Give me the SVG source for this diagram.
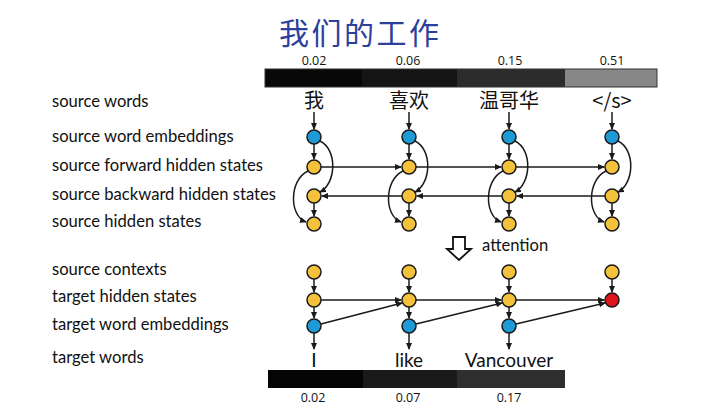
<svg xmlns="http://www.w3.org/2000/svg" width="720" height="405" viewBox="0 0 720 405">
<defs>
<marker id="ah" markerWidth="7" markerHeight="6" refX="6" refY="3" orient="auto" markerUnits="userSpaceOnUse">
<path d="M0,0 L7,3 L0,6 Z" fill="#1a1a1a"/>
</marker>
<style>
.lbl{font-family:Lato,"Open Sans","Liberation Sans",sans-serif;font-size:16.6px;fill:#111}
.num{font-family:"Open Sans","Liberation Sans",sans-serif;font-size:12.5px;fill:#111;text-anchor:middle}
.sw{font-family:"Noto Sans CJK SC","Liberation Sans",sans-serif;font-size:20px;fill:#111;text-anchor:middle}
.tw{font-family:Lato,"Open Sans","Liberation Sans",sans-serif;font-size:19px;fill:#111;text-anchor:middle}
.y{fill:#f3c13a;stroke:#1a1a1a;stroke-width:1.5}
.b{fill:#1e9ad6;stroke:#1a1a1a;stroke-width:1.5}
.r{fill:#e0141c;stroke:#1a1a1a;stroke-width:1.5}
.c line,.c path{stroke:#1a1a1a;stroke-width:1.5;fill:none;marker-end:url(#ah)}
</style>
</defs>
<rect width="720" height="405" fill="#fff"/>
<text x="279" y="44" font-family="'Noto Sans CJK SC',sans-serif" font-size="30" fill="#2b3f9c" textLength="160">我们的工作</text>
<g id="topbar">
<rect x="265" y="69" width="97" height="18" fill="#080808"/>
<rect x="362" y="69" width="95" height="18" fill="#141414"/>
<rect x="457" y="69" width="108" height="18" fill="#2c2c2c"/>
<rect x="565" y="69" width="92" height="18" fill="#878787"/>
<rect x="265" y="69" width="392" height="18" fill="none" stroke="#333" stroke-width="1"/>
<text class="num" x="314" y="65">0.02</text>
<text class="num" x="408" y="65">0.06</text>
<text class="num" x="510" y="65">0.15</text>
<text class="num" x="612" y="65">0.51</text>
</g>
<g id="labels">
<text class="lbl" x="52" y="107">source words</text>
<text class="lbl" x="52" y="142">source word embeddings</text>
<text class="lbl" x="52" y="171">source forward hidden states</text>
<text class="lbl" x="52" y="200">source backward hidden states</text>
<text class="lbl" x="52" y="227">source hidden states</text>
<text class="lbl" x="52" y="275">source contexts</text>
<text class="lbl" x="52" y="302">target hidden states</text>
<text class="lbl" x="52" y="330">target word embeddings</text>
<text class="lbl" x="52" y="363">target words</text>
</g>
<g id="source-words">
<text class="sw" x="314" y="108">我</text>
<text class="sw" x="409" y="108">喜欢</text>
<text class="sw" x="509" y="108">温哥华</text>
<text class="sw" x="612" y="108" font-family="Lato,'Open Sans',sans-serif">&lt;/s&gt;</text>
</g>
<g id="connectors" class="c">
<line x1="314" y1="112" x2="314" y2="129"/>
<line x1="409" y1="112" x2="409" y2="129"/>
<line x1="509" y1="112" x2="509" y2="129"/>
<line x1="612" y1="112" x2="612" y2="129"/>
<line x1="314" y1="144" x2="314" y2="159"/>
<line x1="409" y1="144" x2="409" y2="159"/>
<line x1="509" y1="144" x2="509" y2="159"/>
<line x1="612" y1="144" x2="612" y2="159"/>
<path d="M320,141 C338,150 336,184 320,192"/>
<path d="M415,141 C433,150 431,184 415,192"/>
<path d="M515,141 C533,150 531,184 515,192"/>
<path d="M618,141 C636,150 634,184 618,192"/>
<path d="M308,171 C289,180 289,216 306,222"/>
<path d="M403,171 C384,180 384,216 401,222"/>
<path d="M503,171 C484,180 484,216 501,222"/>
<path d="M606,171 C587,180 587,216 604,222"/>
<line x1="314" y1="203" x2="314" y2="216"/>
<line x1="409" y1="203" x2="409" y2="216"/>
<line x1="509" y1="203" x2="509" y2="216"/>
<line x1="612" y1="203" x2="612" y2="216"/>
<line x1="321" y1="167" x2="401" y2="167"/>
<line x1="416" y1="167" x2="501" y2="167"/>
<line x1="516" y1="167" x2="604" y2="167"/>
<line x1="402" y1="196" x2="322" y2="196"/>
<line x1="502" y1="196" x2="417" y2="196"/>
<line x1="605" y1="196" x2="517" y2="196"/>
<line x1="314" y1="279" x2="314" y2="292"/>
<line x1="409" y1="279" x2="409" y2="292"/>
<line x1="509" y1="279" x2="509" y2="292"/>
<line x1="612" y1="279" x2="612" y2="292"/>
<line x1="314" y1="307" x2="314" y2="318"/>
<line x1="409" y1="307" x2="409" y2="318"/>
<line x1="509" y1="307" x2="509" y2="318"/>
<line x1="314" y1="333" x2="314" y2="349"/>
<line x1="409" y1="333" x2="409" y2="349"/>
<line x1="509" y1="333" x2="509" y2="349"/>
<line x1="321" y1="300" x2="401" y2="300"/>
<line x1="416" y1="300" x2="501" y2="300"/>
<line x1="516" y1="300" x2="604" y2="300"/>
<line x1="321" y1="324" x2="402" y2="303"/>
<line x1="416" y1="324" x2="502" y2="303"/>
<line x1="516" y1="324" x2="605" y2="303"/>
</g>
<g id="nodes">
<g id="e1"><circle class="b" cx="314" cy="137" r="7"/></g>
<g id="e2"><circle class="b" cx="409" cy="137" r="7"/></g>
<g id="e3"><circle class="b" cx="509" cy="137" r="7"/></g>
<g id="e4"><circle class="b" cx="612" cy="137" r="7"/></g>
<g id="f1"><circle class="y" cx="314" cy="167" r="7"/></g>
<g id="f2"><circle class="y" cx="409" cy="167" r="7"/></g>
<g id="f3"><circle class="y" cx="509" cy="167" r="7"/></g>
<g id="f4"><circle class="y" cx="612" cy="167" r="7"/></g>
<g id="bk1"><circle class="y" cx="314" cy="196" r="7"/></g>
<g id="bk2"><circle class="y" cx="409" cy="196" r="7"/></g>
<g id="bk3"><circle class="y" cx="509" cy="196" r="7"/></g>
<g id="bk4"><circle class="y" cx="612" cy="196" r="7"/></g>
<g id="h1"><circle class="y" cx="314" cy="224" r="7"/></g>
<g id="h2"><circle class="y" cx="409" cy="224" r="7"/></g>
<g id="h3"><circle class="y" cx="509" cy="224" r="7"/></g>
<g id="h4"><circle class="y" cx="612" cy="224" r="7"/></g>
<g id="c1"><circle class="y" cx="314" cy="272" r="7"/></g>
<g id="c2"><circle class="y" cx="409" cy="272" r="7"/></g>
<g id="c3"><circle class="y" cx="509" cy="272" r="7"/></g>
<g id="c4"><circle class="y" cx="612" cy="272" r="7"/></g>
<g id="t1"><circle class="y" cx="314" cy="300" r="7"/></g>
<g id="t2"><circle class="y" cx="409" cy="300" r="7"/></g>
<g id="t3"><circle class="y" cx="509" cy="300" r="7"/></g>
<g id="t4"><circle class="r" cx="612" cy="300" r="7"/></g>
<g id="w1"><circle class="b" cx="314" cy="326" r="7"/></g>
<g id="w2"><circle class="b" cx="409" cy="326" r="7"/></g>
<g id="w3"><circle class="b" cx="509" cy="326" r="7"/></g>
</g>
<g id="attention">
<path d="M453,237 L465,237 L465,249 L471,249 L459,260 L447,249 L453,249 Z" fill="#fff" stroke="#111" stroke-width="1.8" stroke-linejoin="miter"/>
<text class="lbl" x="482" y="251">attention</text>
</g>
<g id="target-words">
<text class="tw" x="314" y="367">I</text>
<text class="tw" x="409" y="367">like</text>
<text class="tw" x="509" y="367">Vancouver</text>
</g>
<g id="bottombar">
<rect x="268" y="370" width="95" height="18" fill="#050505"/>
<rect x="363" y="370" width="94" height="18" fill="#1a1a1a"/>
<rect x="457" y="370" width="108" height="18" fill="#2e2e2e"/>
<text class="num" x="313" y="402">0.02</text>
<text class="num" x="408" y="402">0.07</text>
<text class="num" x="509" y="402">0.17</text>
</g>
</svg>
